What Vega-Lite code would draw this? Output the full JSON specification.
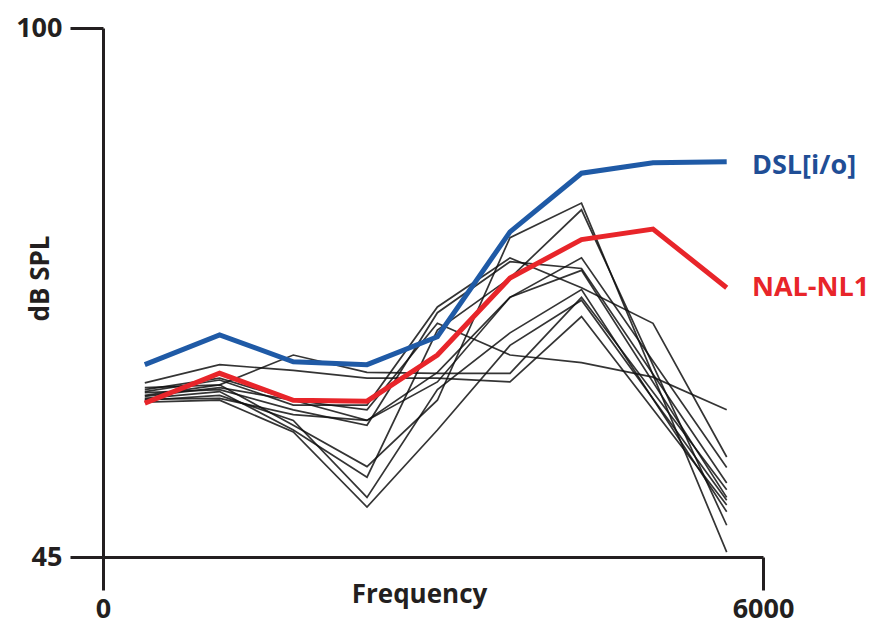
{
  "$schema": "https://vega.github.io/schema/vega-lite/v6.json",
  "width": 660,
  "height": 529,
  "autosize": "none",
  "padding": {"left": 103, "top": 28, "right": 119, "bottom": 68},
  "background": "white",
  "config": {
    "view": {"stroke": null},
    "font": "Open Sans",
    "axis": {
      "grid": false,
      "labelFlush": false,
      "labelOverlap": false,
      "domainColor": "#231f20",
      "domainWidth": 3,
      "tickColor": "#231f20",
      "tickWidth": 3,
      "tickSize": 33,
      "labelFont": "Open Sans",
      "labelFontSize": 27,
      "labelFontWeight": "bold",
      "labelColor": "#231f20",
      "titleFont": "Open Sans",
      "titleFontSize": 26,
      "titleFontWeight": "bold",
      "titleColor": "#231f20"
    }
  },
  "datasets": {
    "black": [
      {"s": "B1", "f": 380, "db": 63.1}, {"s": "B1", "f": 1060, "db": 65.0}, {"s": "B1", "f": 1730, "db": 64.4}, {"s": "B1", "f": 2400, "db": 63.6}, {"s": "B1", "f": 3040, "db": 63.6}, {"s": "B1", "f": 3700, "db": 63.2}, {"s": "B1", "f": 4350, "db": 70.0}, {"s": "B1", "f": 5670, "db": 50.4},
      {"s": "B2", "f": 380, "db": 62.6}, {"s": "B2", "f": 1060, "db": 62.9}, {"s": "B2", "f": 1730, "db": 66.0}, {"s": "B2", "f": 2400, "db": 64.2}, {"s": "B2", "f": 3040, "db": 64.1}, {"s": "B2", "f": 3700, "db": 64.1}, {"s": "B2", "f": 4350, "db": 72.0}, {"s": "B2", "f": 5670, "db": 52.0},
      {"s": "B3", "f": 380, "db": 62.4}, {"s": "B3", "f": 1060, "db": 63.6}, {"s": "B3", "f": 1730, "db": 61.3}, {"s": "B3", "f": 2400, "db": 59.2}, {"s": "B3", "f": 3040, "db": 63.2}, {"s": "B3", "f": 3700, "db": 72.0}, {"s": "B3", "f": 4350, "db": 76.1}, {"s": "B3", "f": 5670, "db": 54.3},
      {"s": "B4", "f": 380, "db": 62.1}, {"s": "B4", "f": 1060, "db": 62.4}, {"s": "B4", "f": 1730, "db": 60.3}, {"s": "B4", "f": 2400, "db": 58.7}, {"s": "B4", "f": 3040, "db": 70.4}, {"s": "B4", "f": 3700, "db": 75.7}, {"s": "B4", "f": 4350, "db": 75.0}, {"s": "B4", "f": 5670, "db": 52.7},
      {"s": "B5", "f": 380, "db": 61.8}, {"s": "B5", "f": 1060, "db": 62.9}, {"s": "B5", "f": 1730, "db": 58.7}, {"s": "B5", "f": 2400, "db": 54.4}, {"s": "B5", "f": 3040, "db": 61.3}, {"s": "B5", "f": 3700, "db": 78.2}, {"s": "B5", "f": 4350, "db": 81.8}, {"s": "B5", "f": 5670, "db": 45.5},
      {"s": "B6", "f": 380, "db": 61.5}, {"s": "B6", "f": 1060, "db": 62.2}, {"s": "B6", "f": 1730, "db": 58.2}, {"s": "B6", "f": 2400, "db": 53.3}, {"s": "B6", "f": 3040, "db": 68.6}, {"s": "B6", "f": 3700, "db": 74.0}, {"s": "B6", "f": 4350, "db": 81.1}, {"s": "B6", "f": 5670, "db": 48.3},
      {"s": "B7", "f": 380, "db": 61.3}, {"s": "B7", "f": 1060, "db": 61.8}, {"s": "B7", "f": 1730, "db": 59.2}, {"s": "B7", "f": 2400, "db": 51.2}, {"s": "B7", "f": 3040, "db": 62.4}, {"s": "B7", "f": 3700, "db": 68.3}, {"s": "B7", "f": 4350, "db": 72.8}, {"s": "B7", "f": 5670, "db": 49.7},
      {"s": "B8", "f": 380, "db": 61.1}, {"s": "B8", "f": 1060, "db": 61.3}, {"s": "B8", "f": 1730, "db": 58.0}, {"s": "B8", "f": 2400, "db": 50.2}, {"s": "B8", "f": 3040, "db": 58.2}, {"s": "B8", "f": 3700, "db": 67.0}, {"s": "B8", "f": 4350, "db": 71.7}, {"s": "B8", "f": 5670, "db": 50.9},
      {"s": "B9", "f": 380, "db": 62.2}, {"s": "B9", "f": 1060, "db": 63.4}, {"s": "B9", "f": 1730, "db": 60.8}, {"s": "B9", "f": 2400, "db": 60.8}, {"s": "B9", "f": 3040, "db": 71.0}, {"s": "B9", "f": 3700, "db": 76.1}, {"s": "B9", "f": 4350, "db": 73.0}, {"s": "B9", "f": 5000, "db": 69.3}, {"s": "B9", "f": 5670, "db": 55.4},
      {"s": "B10", "f": 380, "db": 61.7}, {"s": "B10", "f": 1060, "db": 62.6}, {"s": "B10", "f": 1730, "db": 61.3}, {"s": "B10", "f": 2400, "db": 60.3}, {"s": "B10", "f": 3040, "db": 69.3}, {"s": "B10", "f": 3700, "db": 66.0}, {"s": "B10", "f": 4350, "db": 65.2}, {"s": "B10", "f": 5000, "db": 63.7}, {"s": "B10", "f": 5670, "db": 60.3},
      {"s": "B11", "f": 380, "db": 61.4}, {"s": "B11", "f": 1060, "db": 61.5}, {"s": "B11", "f": 1730, "db": 59.8}, {"s": "B11", "f": 2400, "db": 59.2}, {"s": "B11", "f": 3040, "db": 64.2}, {"s": "B11", "f": 3700, "db": 72.0}, {"s": "B11", "f": 4350, "db": 74.8}, {"s": "B11", "f": 5670, "db": 51.2}
    ],
    "dsl": [
      {"f": 380, "db": 65.0}, {"f": 1060, "db": 68.1}, {"f": 1730, "db": 65.3}, {"f": 2400, "db": 65.0}, {"f": 3040, "db": 67.9}, {"f": 3700, "db": 78.8}, {"f": 4350, "db": 84.9}, {"f": 5000, "db": 86.0}, {"f": 5670, "db": 86.1}
    ],
    "nal": [
      {"f": 380, "db": 61.0}, {"f": 1060, "db": 64.1}, {"f": 1730, "db": 61.3}, {"f": 2400, "db": 61.2}, {"f": 3040, "db": 66.0}, {"f": 3700, "db": 74.0}, {"f": 4350, "db": 78.0}, {"f": 5000, "db": 79.1}, {"f": 5670, "db": 73.0}
    ],
    "labels": [
      {"f": 5900, "db": 85.7, "t": "DSL[i/o]", "c": "DSL"},
      {"f": 5900, "db": 73.0, "t": "NAL-NL1", "c": "NAL"}
    ]
  },
  "layer": [
    {
      "data": {"name": "black"},
      "mark": {"type": "line", "color": "#111111", "strokeWidth": 1.7, "opacity": 0.85},
      "encoding": {
        "x": {"field": "f", "type": "quantitative", "scale": {"domain": [0, 6000]},
              "axis": {"values": [0, 6000], "format": "d", "title": "Frequency", "labelPadding": 6,
                       "titleX": 316, "titleY": 37, "titleBaseline": "middle", "titleAnchor": null}},
        "y": {"field": "db", "type": "quantitative", "scale": {"domain": [45, 100]},
              "axis": {"values": [45, 100], "format": "d", "title": "dB SPL", "labelPadding": 8,
                       "titleX": -63, "titleY": 250, "titleAngle": -90, "titleBaseline": "middle"}},
        "detail": {"field": "s"}
      }
    },
    {
      "data": {"name": "dsl"},
      "mark": {"type": "line", "color": "#1f5aa6", "strokeWidth": 5},
      "encoding": {
        "x": {"field": "f", "type": "quantitative"},
        "y": {"field": "db", "type": "quantitative"}
      }
    },
    {
      "data": {"name": "nal"},
      "mark": {"type": "line", "color": "#e8252a", "strokeWidth": 5},
      "encoding": {
        "x": {"field": "f", "type": "quantitative"},
        "y": {"field": "db", "type": "quantitative"}
      }
    },
    {
      "data": {"name": "labels"},
      "mark": {"type": "text", "align": "left", "baseline": "middle", "fontSize": 27, "fontWeight": "bold", "font": "Open Sans"},
      "encoding": {
        "x": {"field": "f", "type": "quantitative"},
        "y": {"field": "db", "type": "quantitative"},
        "text": {"field": "t"},
        "color": {"field": "c", "type": "nominal", "scale": {"domain": ["DSL", "NAL"], "range": ["#1f4e96", "#e8252a"]}, "legend": null}
      }
    }
  ]
}
